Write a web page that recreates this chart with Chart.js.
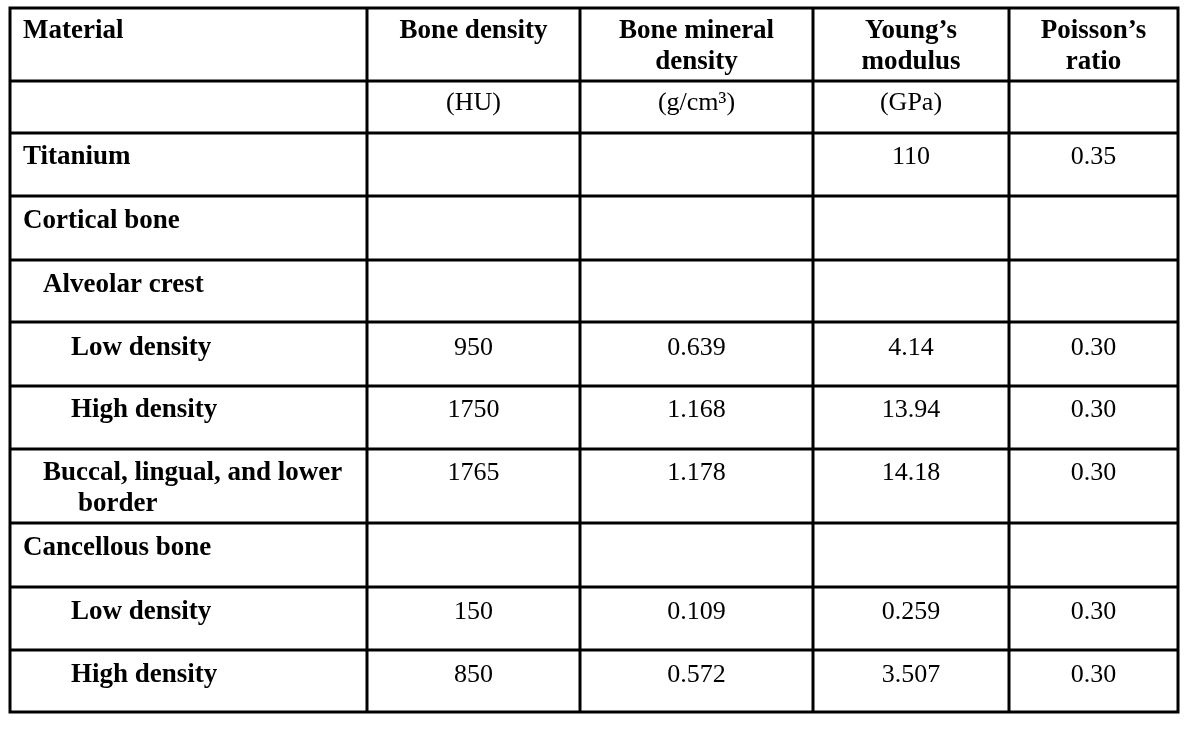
<!DOCTYPE html>
<html>
<head>
<meta charset="utf-8">
<script src="https://cdn.jsdelivr.net/npm/chart.js@4.4.1/dist/chart.umd.min.js"></script>
<style>
  html, body { margin: 0; padding: 0; background: #ffffff; }
  canvas { display: block; }
</style>
</head>
<body>
<canvas id="tableChart" width="1200" height="729"></canvas>
<script>
// table content
const headers = ['Material', 'Bone density', 'Bone mineral\ndensity', 'Young\u2019s\nmodulus', 'Poisson\u2019s\nratio'];
const units = ['', '(HU)', '(g/cm\u00B3)', '(GPa)', ''];
const materials = ['Titanium', 'Cortical bone', 'Alveolar crest', 'Low density', 'High density',
    'Buccal, lingual, and lower\nborder', 'Cancellous bone', 'Low density', 'High density'];
const materialLevel = [0, 0, 1, 2, 2, 1, 0, 2, 2];
const boneDensityHU = ['', '', '', '950', '1750', '1765', '', '150', '850'];
const boneMineralDensity = ['', '', '', '0.639', '1.168', '1.178', '', '0.109', '0.572'];
const youngsModulusGPa = ['110', '', '', '4.14', '13.94', '14.18', '', '0.259', '3.507'];
const poissonsRatio = ['0.35', '', '', '0.30', '0.30', '0.30', '', '0.30', '0.30'];

// layout (scale units)
const colWidths = [357, 213, 233, 196, 169];
const rowHeights = [73, 52, 63, 64, 62, 64, 63, 74, 64, 63, 62];
const rowBaseline = [30, 29, 31, 32, 32, 33, 31, 31, 32, 32, 32];
const levelIndent = [13, 33, 61];
const wrapIndent = 35;
const lineGap = 31;

const boldFont = 'bold 27px "Liberation Serif", "Times New Roman", serif';
const plainFont = '26px "Liberation Serif", "Times New Roman", serif';

const colEdges = [0];
colWidths.forEach(w => colEdges.push(colEdges[colEdges.length - 1] + w));
const rowEdges = [0];
rowHeights.forEach(h => rowEdges.push(rowEdges[rowEdges.length - 1] + h));

const valueColumns = [boneDensityHU, boneMineralDensity, youngsModulusGPa, poissonsRatio];

/**
 * Draws grid and cell texts using the chart scales.
 */
const tablePlugin = {
    id: 'tablePlugin',
    afterDraw(chart) {
        const c = chart.ctx;
        const xs = chart.scales.x;
        const ys = chart.scales.y;
        const px = v => xs.getPixelForValue(v);
        const py = v => ys.getPixelForValue(v);

        c.save();
        c.fillStyle = '#000000';
        c.textBaseline = 'alphabetic';

        function cellText(text, col, row, font, align, indent) {
            if (!text) return;
            c.font = font;
            c.textAlign = align;
            const lines = text.split('\n');
            const top = py(rowEdges[row]);
            lines.forEach((line, i) => {
                let x;
                if (align === 'left') {
                    x = px(colEdges[col]) + indent + (i > 0 ? wrapIndent : 0);
                } else {
                    x = (px(colEdges[col]) + px(colEdges[col + 1])) / 2;
                }
                c.fillText(line, x, top + rowBaseline[row] + i * lineGap);
            });
        }

        // header row
        headers.forEach((h, j) => cellText(h, j, 0, boldFont, j === 0 ? 'left' : 'center', levelIndent[0]));
        // units row
        units.forEach((u, j) => cellText(u, j, 1, plainFont, 'center', 0));
        // body rows
        materials.forEach((m, i) => {
            cellText(m, 0, i + 2, boldFont, 'left', levelIndent[materialLevel[i]]);
            valueColumns.forEach((col, j) => cellText(col[i], j + 1, i + 2, plainFont, 'center', 0));
        });

        // grid lines
        c.strokeStyle = '#000000';
        c.lineWidth = 3;
        c.lineCap = 'square';
        c.beginPath();
        rowEdges.forEach(r => {
            c.moveTo(px(colEdges[0]), py(r));
            c.lineTo(px(colEdges[colEdges.length - 1]), py(r));
        });
        colEdges.forEach(e => {
            c.moveTo(px(e), py(rowEdges[0]));
            c.lineTo(px(e), py(rowEdges[rowEdges.length - 1]));
        });
        c.stroke();
        c.restore();
    }
};

let ctx = document.getElementById('tableChart').getContext('2d');

let tableChart = new Chart(ctx, {
    type: 'scatter',
    data: { datasets: [{ data: [] }] },
    options: {
        responsive: false,
        animation: false,
        events: [],
        layout: { padding: { left: 10, top: 8, right: 22, bottom: 17 } },
        plugins: { legend: { display: false }, tooltip: { enabled: false } },
        scales: {
            x: { type: 'linear', display: false, min: 0, max: colEdges[colEdges.length - 1] },
            y: { type: 'linear', display: false, reverse: true, min: 0, max: rowEdges[rowEdges.length - 1] }
        }
    },
    plugins: [tablePlugin]
});
</script>
</body>
</html>
